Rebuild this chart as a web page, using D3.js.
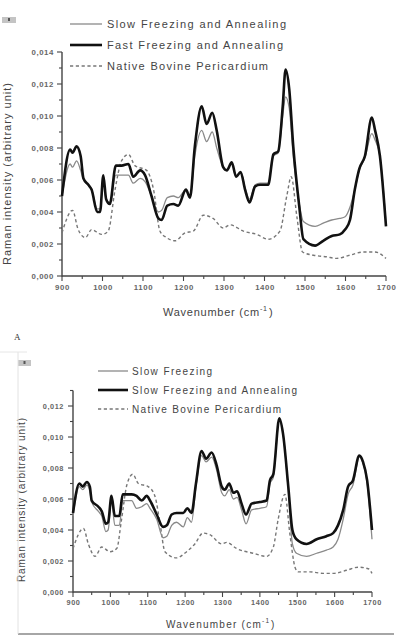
<!DOCTYPE html>
<html><head><meta charset="utf-8">
<script src="https://cdn.jsdelivr.net/npm/d3@7"></script>
<style>body{margin:0;background:#fff}svg{display:block}</style>
</head><body>
<svg id="c" width="407" height="643"></svg>
<script>
// ---------- DATA ----------
const xTicks = [900,1000,1100,1200,1300,1400,1500,1600,1700];
const yTicksA = [0,0.002,0.004,0.006,0.008,0.010,0.012,0.014];
const yTicksB = [0,0.002,0.004,0.006,0.008,0.010,0.012];
const legendA = ["Slow Freezing and Annealing","Fast Freezing and Annealing","Native Bovine Pericardium"];
const legendB = ["Slow Freezing","Slow Freezing and Annealing","Native Bovine Pericardium"];

const aWn = [900,920,926,936,946,953,965,973,987,994,1002,1009,1018,1033,1047,1064,1076,1093,1105,1121,1138,1146,1160,1175,1187,1206,1216,1228,1245,1257,1271,1282,1298,1307,1319,1330,1341,1352,1363,1377,1389,1409,1422,1434,1445,1452,1461,1471,1486,1496,1525,1545,1566,1586,1599,1611,1623,1634,1648,1665,1673,1685,1700];
const aFast = [0.0050,0.0079,0.0077,0.0081,0.0075,0.0061,0.0057,0.0054,0.0040,0.0040,0.0063,0.0048,0.0045,0.0069,0.0069,0.0070,0.0062,0.0066,0.0063,0.0050,0.0036,0.0035,0.0044,0.0045,0.0044,0.0054,0.0049,0.0081,0.0106,0.0095,0.0102,0.0091,0.0068,0.0066,0.0071,0.0062,0.0065,0.0054,0.0046,0.0056,0.0057,0.0057,0.0076,0.0078,0.0106,0.0129,0.0117,0.0081,0.0043,0.0023,0.0019,0.0022,0.0025,0.0026,0.0029,0.0035,0.0054,0.0067,0.0075,0.0099,0.0091,0.0075,0.0031];
const aSlow = [0.0050,0.0070,0.0068,0.0072,0.0066,0.0060,0.0057,0.0054,0.0042,0.0042,0.0060,0.0048,0.0046,0.0063,0.0063,0.0063,0.0058,0.0061,0.0059,0.0050,0.0040,0.0041,0.0049,0.0050,0.0049,0.0054,0.0049,0.0075,0.0091,0.0084,0.0090,0.0080,0.0068,0.0066,0.0071,0.0062,0.0065,0.0055,0.0048,0.0057,0.0058,0.0058,0.0075,0.0077,0.0100,0.0112,0.0105,0.0075,0.0045,0.0034,0.0031,0.0033,0.0035,0.0036,0.0037,0.0043,0.0054,0.0066,0.0074,0.0089,0.0085,0.0075,0.0033];
const aNatWn = [900,926,940,958,973,998,1014,1031,1047,1064,1080,1109,1126,1142,1158,1179,1204,1224,1249,1273,1298,1315,1348,1381,1409,1438,1455,1466,1480,1494,1521,1553,1578,1611,1644,1673,1700];
const aNative = [0.0027,0.0041,0.0029,0.0024,0.0029,0.0026,0.0028,0.0054,0.0072,0.0076,0.0069,0.0066,0.0054,0.0028,0.0024,0.0022,0.0027,0.0028,0.0038,0.0036,0.0030,0.0032,0.0028,0.0026,0.0023,0.0028,0.0050,0.0062,0.0037,0.0015,0.0013,0.0012,0.0011,0.0013,0.0015,0.0015,0.0011];

const bWn = [900,917,926,937,945,950,968,977,988,994,1003,1012,1024,1033,1057,1070,1084,1097,1106,1124,1141,1151,1164,1177,1195,1206,1217,1229,1244,1256,1271,1284,1298,1306,1318,1329,1339,1351,1363,1378,1400,1418,1427,1436,1452,1462,1476,1487,1498,1525,1552,1578,1596,1609,1623,1636,1649,1666,1676,1687,1700];
const bAnneal = [0.0051,0.0070,0.0068,0.0071,0.0068,0.0059,0.0055,0.0052,0.0044,0.0045,0.0062,0.0049,0.0049,0.0063,0.0063,0.0062,0.0059,0.0062,0.0059,0.0050,0.0042,0.0043,0.0050,0.0051,0.0051,0.0054,0.0051,0.0070,0.0091,0.0086,0.0090,0.0082,0.0068,0.0066,0.0070,0.0064,0.0065,0.0057,0.0050,0.0057,0.0058,0.0059,0.0072,0.0076,0.0112,0.0102,0.0068,0.0040,0.0034,0.0031,0.0034,0.0036,0.0038,0.0043,0.0053,0.0068,0.0072,0.0088,0.0084,0.0072,0.0040];
const bSlow = [0.0049,0.0068,0.0066,0.0069,0.0065,0.0058,0.0052,0.0049,0.0039,0.0040,0.0059,0.0043,0.0043,0.0059,0.0059,0.0054,0.0055,0.0057,0.0054,0.0047,0.0035,0.0036,0.0043,0.0045,0.0042,0.0048,0.0045,0.0068,0.0088,0.0084,0.0087,0.0079,0.0064,0.0062,0.0066,0.0060,0.0061,0.0053,0.0044,0.0053,0.0054,0.0055,0.0070,0.0074,0.0111,0.0102,0.0066,0.0031,0.0025,0.0023,0.0025,0.0027,0.0029,0.0034,0.0047,0.0063,0.0069,0.0087,0.0083,0.0070,0.0034];
const bNatWn = [900,928,941,959,977,999,1017,1030,1044,1060,1075,1101,1119,1133,1146,1177,1204,1226,1248,1266,1298,1311,1338,1382,1418,1436,1449,1467,1480,1494,1502,1534,1569,1596,1632,1663,1690,1700];
const bNative = [0.0028,0.0041,0.0031,0.0023,0.0029,0.0026,0.0028,0.0047,0.0069,0.0076,0.0070,0.0068,0.0062,0.0044,0.0026,0.0022,0.0026,0.0031,0.0038,0.0037,0.0031,0.0032,0.0028,0.0025,0.0023,0.0029,0.0047,0.0063,0.0038,0.0016,0.0013,0.0013,0.0012,0.0012,0.0014,0.0016,0.0015,0.0012];

// ---------- DRAW ----------
const svg = d3.select("#c");
const FONT = "Liberation Sans, Arial, sans-serif";
const fmt = v => d3.format(".3f")(v).replace(".", ",");
const zip = (a,b) => a.map((w,i)=>[w,b[i]]);

const styles = {
  gray:  {stroke:"#8a8a8a", width:1.3, dash:null},
  black: {stroke:"#111", width:2.6, dash:null},
  dash:  {stroke:"#777", width:1.4, dash:"3.2,2.6"}
};

function panel(o){
  const x = d3.scaleLinear().domain([900,1700]).range([o.x0,o.x1]);
  const y = d3.scaleLinear().domain([0,o.ymax]).range([o.y0,o.y1]);
  const g = svg.append("g");

  // minor ticks
  const yMinor = d3.range(0, o.ymax+1e-9, 0.001);
  g.selectAll(".ym").data(yMinor).join("line")
    .attr("x1",o.x0).attr("x2",d=>o.x0-(Math.round(d*1000)%2===0?5:3))
    .attr("y1",d=>y(d)).attr("y2",d=>y(d)).attr("stroke","#444").attr("stroke-width",1.1);
  const xMinor = d3.range(900,1701,50);
  g.selectAll(".xm").data(xMinor).join("line")
    .attr("y1",o.y0).attr("y2",d=>o.y0+(d%100===0?5:3))
    .attr("x1",d=>x(d)).attr("x2",d=>x(d)).attr("stroke","#444").attr("stroke-width",1.1);

  // axes via d3
  const ya = d3.axisLeft(y).tickValues(o.yTicks).tickFormat(fmt).tickSize(0).tickPadding(o.ypad);
  const ga = g.append("g").attr("transform",`translate(${o.x0},0)`).call(ya);
  ga.select(".domain").remove();
  ga.selectAll("text").attr("font-family",FONT).attr("font-size",o.tfs).attr("font-weight","bold")
    .attr("fill","#666").attr("letter-spacing",0.6);
  const xa = d3.axisBottom(x).tickValues(xTicks).tickFormat(d3.format("d")).tickSize(0).tickPadding(o.xpad);
  const gx = g.append("g").attr("transform",`translate(0,${o.y0})`).call(xa);
  gx.select(".domain").remove();
  gx.selectAll("text").attr("font-family",FONT).attr("font-size",o.tfs).attr("font-weight","bold")
    .attr("fill","#666").attr("letter-spacing",0.6);

  g.append("line").attr("x1",o.x0).attr("x2",o.x0).attr("y1",o.y0+0.5).attr("y2",y(o.ymax))
    .attr("stroke","#444").attr("stroke-width",1.4);
  g.append("line").attr("x1",o.x0).attr("x2",o.x1).attr("y1",o.y0).attr("y2",o.y0)
    .attr("stroke","#444").attr("stroke-width",1.4);

  const line = d3.line().x(d=>x(d[0])).y(d=>y(d[1])).curve(d3.curveMonotoneX);
  o.series.forEach(s=>{
    const st = styles[s.style];
    g.append("path").datum(zip(s.wn,s.v)).attr("d",line).attr("fill","none")
      .attr("stroke",st.stroke).attr("stroke-width",st.width)
      .attr("stroke-dasharray",st.dash).attr("stroke-linejoin","round");
  });

  // legend
  o.legend.forEach((t,i)=>{
    const st = styles[o.legStyles[i]];
    const ly = o.ly0 + i*o.ldy;
    g.append("line").attr("x1",o.lx0).attr("x2",o.lx1).attr("y1",ly).attr("y2",ly)
      .attr("stroke",st.stroke).attr("stroke-width",st.width).attr("stroke-dasharray",st.dash);
    g.append("text").attr("x",o.ltx).attr("y",ly+4).text(t)
      .attr("font-family",FONT).attr("font-size",o.lfs).attr("fill","#444")
      .attr("textLength",o.lw[i]).attr("lengthAdjust","spacing");
  });

  // titles
  g.append("text").attr("x",o.xtx).attr("y",o.xty).attr("font-family",FONT).attr("font-size",o.lfs)
    .attr("fill","#444").attr("textLength",o.xtw).attr("lengthAdjust","spacing")
    .text("Wavenumber (cm").append("tspan").attr("dy",-5).attr("font-size",o.lfs*0.65).text("-1");
  g.append("text").attr("x",o.xtx+o.xtw+2).attr("y",o.xty).attr("font-family",FONT).attr("font-size",o.lfs)
    .attr("fill","#444").text(")");
  g.append("text").attr("transform",`translate(${o.ytx},${o.ytc}) rotate(-90)`).attr("text-anchor","middle")
    .attr("font-family",FONT).attr("font-size",o.lfs).attr("fill","#444")
    .attr("textLength",o.ytw).attr("lengthAdjust","spacing").text("Raman intensity (arbitrary unit)");

  // small gray marker
  g.append("rect").attr("x",o.mx).attr("y",o.my).attr("width",o.mw).attr("height",6).attr("fill","#c4c4c4");
  g.append("rect").attr("x",o.mx+o.mw/2-1).attr("y",o.my+1).attr("width",2).attr("height",3).attr("fill","#555");
}

panel({x0:62,x1:386,y0:276,y1:52,ymax:0.014,yTicks:yTicksA,tfs:7.8,ypad:8,xpad:8,
  series:[{wn:aNatWn,v:aNative,style:"dash"},{wn:aWn,v:aSlow,style:"gray"},{wn:aWn,v:aFast,style:"black"}],
  legend:legendA,legStyles:["gray","black","dash"],ly0:24,ldy:21,lx0:70,lx1:102,ltx:107,lfs:11,lw:[179,176,161],
  xtx:163,xty:316,xtw:104,ytx:11,ytc:174,ytw:182,mx:2,my:17,mw:14});

panel({x0:73,x1:372,y0:592,y1:390.5,ymax:0.013,yTicks:yTicksB,tfs:7.3,ypad:9,xpad:8,
  series:[{wn:bNatWn,v:bNative,style:"dash"},{wn:bWn,v:bSlow,style:"gray"},{wn:bWn,v:bAnneal,style:"black"}],
  legend:legendB,legStyles:["gray","black","dash"],ly0:371,ldy:19,lx0:98,lx1:128,ltx:132,lfs:10,lw:[80,165,149],
  xtx:166,xty:628,xtw:103,ytx:25,ytc:500,ytw:164,mx:18,my:360,mw:13});

// panel letter and frame lines
svg.append("text").attr("x",14).attr("y",340).attr("font-family","Liberation Serif, serif")
  .attr("font-size",9).attr("fill","#333").text("A");
svg.append("line").attr("x1",18).attr("x2",394).attr("y1",634).attr("y2",634).attr("stroke","#888").attr("stroke-width",1.5);
svg.append("line").attr("x1",18).attr("x2",18).attr("y1",352).attr("y2",634).attr("stroke","#e2e2e2").attr("stroke-width",1);
svg.append("line").attr("x1",0).attr("x2",27).attr("y1",352).attr("y2",352).attr("stroke","#e6e6e6").attr("stroke-width",1);
</script>
</body></html>
